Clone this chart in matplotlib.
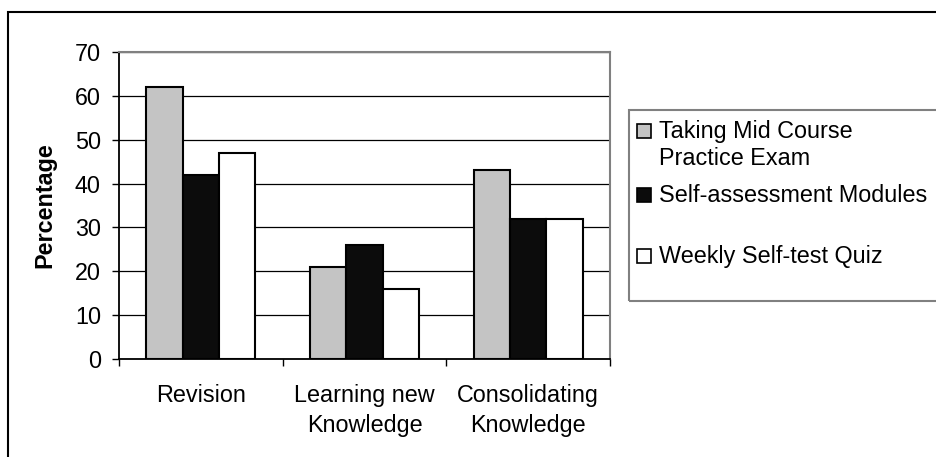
import matplotlib
matplotlib.use("Agg")
import matplotlib.pyplot as plt
from matplotlib.patches import Rectangle
import numpy as np

plt.rcParams['font.family'] = ['Liberation Sans', 'DejaVu Sans']

categories = ['Revision', 'Learning new\nKnowledge', 'Consolidating\nKnowledge']
series_names = ['Taking Mid Course\nPractice Exam', 'Self-assessment Modules', 'Weekly Self-test Quiz']
mid_course = [62, 21, 43]
self_assessment = [42, 26, 32]
weekly_quiz = [47, 16, 32]
series_values = [mid_course, self_assessment, weekly_quiz]
series_colors = ['#c4c4c4', '#0c0c0c', '#ffffff']
y_ticks = [0, 10, 20, 30, 40, 50, 60, 70]

W, H = 936, 457
fig = plt.figure(figsize=(W / 100, H / 100), dpi=100)
ax = fig.add_axes([119 / W, 1 - 359 / H, (610 - 119) / W, (359 - 52) / H])

fs = 16.8
x = np.arange(len(categories))
bw = 1 / 4.5
for i, (vals, col) in enumerate(zip(series_values, series_colors)):
    ax.bar(x + (i - 1) * bw, vals, width=bw, color=col, edgecolor='black',
           linewidth=1.5, zorder=3)

ax.set_xlim(-0.5, len(categories) - 0.5)
ax.set_ylim(0, 70)
ax.set_yticks(y_ticks)
ax.yaxis.grid(True, color='black', linewidth=0.9, zorder=0)
ax.set_axisbelow(True)

ax.set_xticks(x)
ax.set_xticklabels(categories, fontsize=fs, linespacing=1.4)
ax.set_xticks(np.arange(len(categories) + 1) - 0.5, minor=True)
ax.tick_params(axis='x', which='major', length=0, pad=18)
ax.tick_params(axis='x', which='minor', length=5, width=1, direction='out')
ax.tick_params(axis='y', length=5, width=1, direction='out', labelsize=fs, pad=8)

for s in ['top', 'right']:
    ax.spines[s].set_color('#808080')
    ax.spines[s].set_linewidth(1.5)
for s in ['left', 'bottom']:
    ax.spines[s].set_color('black')
    ax.spines[s].set_linewidth(1.3)

ax.set_ylabel('Percentage', fontsize=fs, fontweight='bold')
ax.yaxis.set_label_coords((56 - 119) / (610 - 119), 0.5)

# outer chart border
fig.patches.append(Rectangle((8 / W, -0.1), 2, 1.1 - 12 / H, transform=fig.transFigure,
                             fill=False, edgecolor='black', linewidth=1.5))

# legend box
fig.patches.append(Rectangle((629 / W, 1 - 301 / H), 1, (301 - 110) / H,
                             transform=fig.transFigure, fill=False,
                             edgecolor='#808080', linewidth=1.5))
baselines = [138, 202, 263]
for name, col, base in zip(series_names, series_colors, baselines):
    sq_top = base - 14
    fig.patches.append(Rectangle((637 / W, 1 - (sq_top + 13.5) / H), 13.5 / W, 13.5 / H,
                                 transform=fig.transFigure, facecolor=col,
                                 edgecolor='black', linewidth=1.2))
    for j, line in enumerate(name.split('\n')):
        fig.text(659 / W, 1 - (base + j * 27) / H, line, fontsize=fs, va='baseline')

fig.savefig('out.png', dpi=100)
